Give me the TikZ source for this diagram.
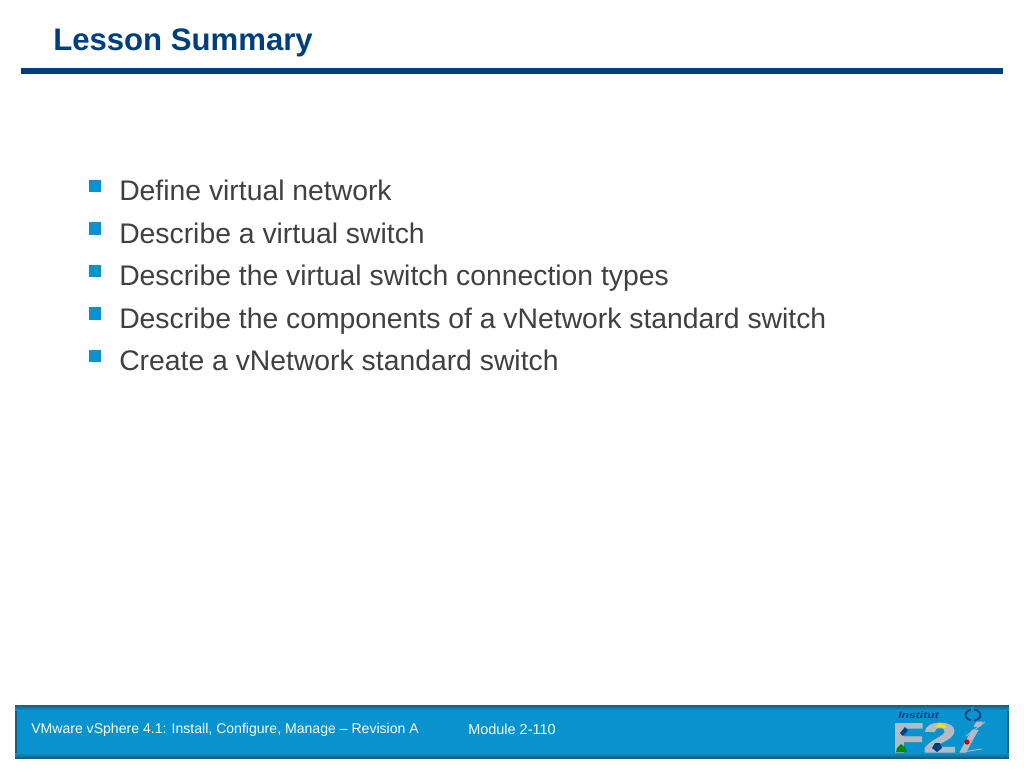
\documentclass[tikz,border=0pt]{standalone}
\usepackage{fontspec}
\setmainfont{Liberation Sans}
\newfontfamily\logofont[FakeBold=2.5]{Liberation Sans Bold}
\definecolor{titleblue}{HTML}{003F7F}
\definecolor{barblue}{HTML}{0892CE}
\definecolor{bardark}{HTML}{1F5A7A}
\definecolor{bodygrey}{HTML}{404040}
\definecolor{logogrey}{HTML}{B4BAC4}
\tikzset{
  bodytext/.style={anchor=base west,inner sep=0pt,text=bodygrey,font=\fontsize{21.25}{25}\selectfont},
  bulletmark/.style={fill=barblue,draw=none,minimum size=9.4pt,inner sep=0pt,anchor=center,rectangle},
  foot/.style={anchor=base west,inner sep=0pt,text=white,font=\fontsize{10.55}{12}\selectfont},
  logotext/.style={anchor=base west,inner sep=0pt,text=logogrey,font=\logofont\fontsize{31}{31}\selectfont}
}
\begin{document}
\begin{tikzpicture}[x=0.75pt,y=-0.75pt]
\useasboundingbox (0,0) rectangle (1024,768);
\fill[white] (0,0) rectangle (1024,768);
% title
\node[anchor=base west,inner sep=0pt,text=titleblue,font=\bfseries\fontsize{23.35}{28}\selectfont] (title) at (53,50) {Lesson Summary};
\fill[titleblue] (21,68) rectangle (1003,74);
% bullets
\node[bulletmark] (b1) at (95,186) {};
\node[bodytext] (t1) at (119,200) {Define virtual network};
\node[bulletmark] (b2) at (95,228.5) {};
\node[bodytext] (t2) at (119,243) {Describe a virtual switch};
\node[bulletmark] (b3) at (95,271) {};
\node[bodytext] (t3) at (119,285.5) {Describe the virtual switch connection types};
\node[bulletmark] (b4) at (95,313.5) {};
\node[bodytext] (t4) at (119,328) {Describe the components of a vNetwork standard switch};
\node[bulletmark] (b5) at (95,356) {};
\node[bodytext] (t5) at (119,370.5) {Create a vNetwork standard switch};
% footer bar
\fill[bardark] (15,705) rectangle (1009,758);
\shade[top color=bardark,bottom color=barblue] (15,705) rectangle (1009,710);
\fill[barblue] (17,710) rectangle (1007,753);
\shade[top color=barblue,bottom color=bardark] (15,753) rectangle (1009,758);
\node[foot] (f1) at (31,733.5) {VMware vSphere 4.1: Install, Configure, Manage – Revision A};
\node[foot,font=\fontsize{10.85}{12}\selectfont] (f2) at (468,734.5) {Module 2-110};
% logo
\node[logotext,xscale=1.25] (lf) at (892,752) {F};
\node[logotext,xscale=1.45] (l2) at (923,752) {2};
\node[logotext,xslant=0.55,font=\logofont\fontsize{31}{31}\selectfont] (li) at (957,752) {i};
\draw[logogrey,line width=0.7pt] (966,736) -- (985,722);
\draw[logogrey,line width=0.7pt] (962,752) -- (982,749);
\node[anchor=base west,inner sep=0pt,text=titleblue,xscale=1.3,font=\itshape\bfseries\fontsize{7}{7}\selectfont] (inst) at (898,718) {Institut};
\draw[titleblue,line width=1.3pt] (973,715) ellipse (7.5 and 5.5);
\fill[barblue] (971,707) rectangle (974,723);
\fill[green!55!black] (896,752) -- (897,748) -- (901,744) -- (905,747) -- (907,752) -- cycle;
\fill[titleblue] (900,733) -- (905,727) -- (908,730) -- (903,736) -- cycle;
\fill[yellow!80!orange] (935,727) -- (939,723) -- (945,725) -- (946,728) -- cycle;
\fill[titleblue] (932,748) -- (935,743) -- (940,743) -- (942,748) -- (937,752) -- cycle;
\fill[red!80!black] (967,742) circle (2.6);
\end{tikzpicture}
\end{document}
